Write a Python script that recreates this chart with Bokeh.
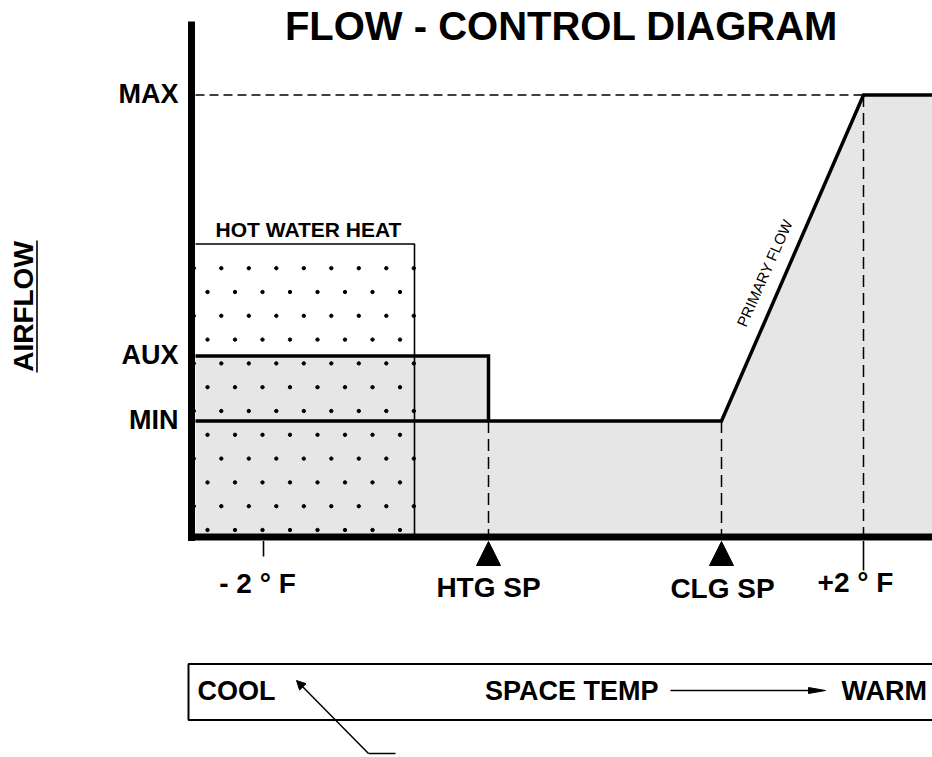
import numpy as np
from bokeh.plotting import figure
from bokeh.models import Range1d, Arrow, NormalHead
from bokeh.embed import file_html
from bokeh.resources import INLINE
from bokeh.core.properties import value

FONT = "Liberation Sans"

# ---------------- data (x: space-temp scale, y: airflow above zero) ----------------
title = "FLOW - CONTROL DIAGRAM"
flow_labels = ["MAX", "AUX", "MIN"]
flow_levels = [442, 181, 116]          # MAX, AUX, MIN airflow
hwh_label = "HOT WATER HEAT"
hwh_top = 293                           # top of hot water heat band
temp_labels = ["- 2 ° F", "HTG SP", "CLG SP", "+2 ° F"]
temp_pos = [263, 488, 721, 863]         # -2F, HTG SP, CLG SP, +2F
temp_label_x = [257, 488, 722, 855]
hwh_right = 414                         # end of hot water heat band
x_start = 195                           # inside of vertical axis
x_end = 940
y_label = "AIRFLOW"
bar_labels = ["COOL", "SPACE TEMP", "WARM"]
primary_label = "PRIMARY FLOW"

MAX, AUX, MIN = flow_levels
HTG, CLG, P2 = temp_pos[1], temp_pos[2], temp_pos[3]

p = figure(width=932, height=757, x_range=Range1d(0, 932), y_range=Range1d(-220.5, 536.5),
           output_backend="svg", toolbar_location=None, min_border=0)
p.axis.visible = False
p.grid.visible = False
p.outline_line_color = None
p.background_fill_color = "white"

# gray airflow region
p.patch([x_start, x_start, HTG, HTG, CLG, P2, x_end, x_end],
        [0, AUX, AUX, MIN, MIN, MAX, MAX, 0],
        fill_color="#e6e6e6", line_color=None)

# dotted hot water heat band
row_step, col_step = 23.8, 27.5
dx, dy = [], []
for i in range(12):
    yy = 268.8 - row_step * i
    if i % 2 == 0:
        xs = x_start - 1.7 + col_step * np.arange(9)
    else:
        xs = x_start + 12 + col_step * np.arange(8)
    dx += list(xs)
    dy += [yy] * len(xs)
p.scatter(dx, dy, size=3.4, color="black", marker="circle")
p.line([x_start, hwh_right, hwh_right], [hwh_top, hwh_top, 0], line_color="black", line_width=1.6)

# dashed guides
p.line([x_start, P2], [MAX, MAX], line_color="black", line_width=1.5, line_dash="9 5")
for xv, top in [(HTG, MIN), (CLG, MIN), (P2, MAX)]:
    p.line([xv, xv], [top, 0], line_color="black", line_width=1.5, line_dash="12 6")

# airflow outline
p.line([x_start, HTG, HTG], [AUX, AUX, MIN], line_color="black", line_width=3.5, line_join="miter")
p.line([x_start, CLG, P2, x_end], [MIN, MIN, MAX, MAX], line_color="black", line_width=3.5, line_join="miter")

# axes
p.line([187.5, x_end], [0, 0], line_color="black", line_width=7)
p.line([191, 191], [-4, 515.5], line_color="black", line_width=7)

# ticks and setpoint triangles
p.line([temp_pos[0]] * 2, [-4, -19.5], line_color="black", line_width=1.6)
p.line([P2] * 2, [-4, -33.5], line_color="black", line_width=1.6)
p.patches([[xv - 12, xv, xv + 12] for xv in (HTG, CLG)],
          [[-28.5, -4.5, -28.5]] * 2, fill_color="black", line_color="black")

# texts
def txt(x, y, t, size, align="center", bold=True, angle=0):
    p.text([x], [y], text=[t], text_font=value(FONT), text_font_size=f"{size}px",
           text_font_style="bold" if bold else "normal", text_align=align,
           text_baseline="middle", text_color="black", angle=angle, angle_units="deg")

txt(561, 511, title, 40)
for lab, lv in zip(flow_labels, flow_levels):
    txt(178, lv + 1, lab, 27, align="right")
txt(22.5, 230.5, y_label, 28, angle=90)
p.line([36.5, 36.5], [164.5, 296.5], line_color="black", line_width=1.6)
txt(308, 308, hwh_label, 21)
txt(764, 264, primary_label, 15, bold=False, angle=66)
for lab, lx, ly in zip(temp_labels, temp_label_x, [-46.5, -50.5, -51.5, -45.5]):
    txt(lx, ly, lab, 28)

# space temp bar
p.quad(left=188, right=x_end, top=-127, bottom=-183, fill_color=None, line_color="black", line_width=2)
txt(197, -153.5, bar_labels[0], 27, align="left")
txt(658, -153.5, bar_labels[1], 27, align="right")
txt(841, -153.5, bar_labels[2], 27, align="left")
p.line([670, 810], [-153.5, -153.5], line_color="black", line_width=1.5)
p.patch([808, 825, 808], [-150.5, -153.5, -156.5], fill_color="black", line_color="black")

# pointer arrow to COOL
p.add_layout(Arrow(end=NormalHead(size=9, fill_color="black", line_color="black"),
                   x_start=368, y_start=-216.5, x_end=296, y_end=-143.5,
                   line_color="black", line_width=1.5))
p.line([368, 395], [-216.5, -216.5], line_color="black", line_width=1.5)

open("out.html", "w").write(file_html(p, INLINE))
